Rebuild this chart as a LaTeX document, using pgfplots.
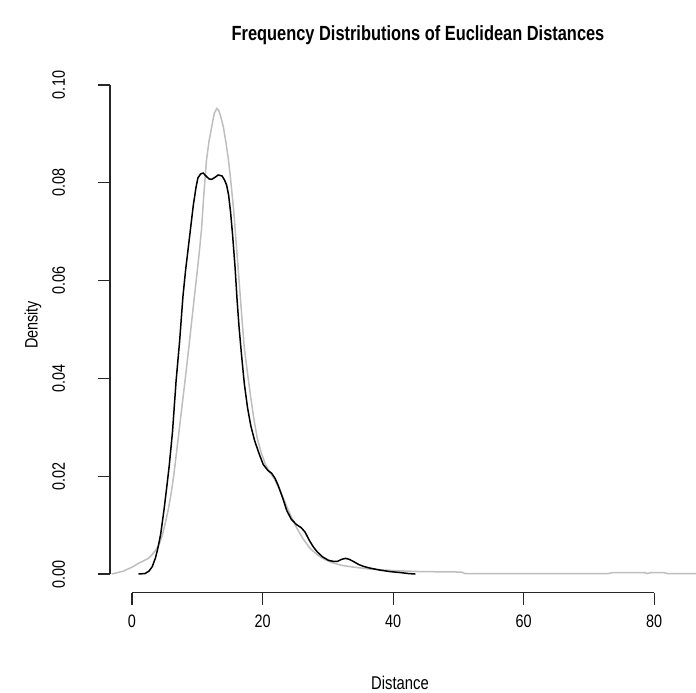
\documentclass[border=0pt]{standalone}
\usepackage{fontspec}
\setmainfont{Liberation Sans}[FakeStretch=0.8]
\usepackage{pgfplots}
\pgfplotsset{compat=1.18}

\definecolor{rgray}{HTML}{BEBEBE}

\begin{document}
\begin{tikzpicture}[x=1pt,y=1pt]
\useasboundingbox (0,0) rectangle (696,693);
\begin{axis}[
    at={(110pt,100.3pt)}, anchor=south west,
    scale only axis, width=586pt, height=507.7pt,
    xmin=-3.37, xmax=86.4, ymin=-0.00382, ymax=0.1,
    clip=false,
    axis line style={draw=none},
    tick pos=left, tick align=outside,
    major tick length=12pt,
    tick style={black!85, line width=1.1pt},
    xtick={0,20,40,60,80}, xticklabels={0,20,40,60,80},
    ytick={0,0.02,0.04,0.06,0.08,0.1},
    yticklabels={0.00,0.02,0.04,0.06,0.08,0.10},
    ticklabel style={font=\fontsize{18}{21}\selectfont, inner sep=0pt},
    xticklabel style={anchor=base, yshift=-22.8pt},
    yticklabel style={xshift=-33pt, rotate=90, anchor=base},
    title={\bfseries Frequency Distributions of Euclidean Distances},
    title style={at={(0.5256,1.0749)}, anchor=base, inner sep=0pt,
        font=\fontsize{20.5}{24}\selectfont},
    xlabel={Distance},
    xlabel style={at={(0.4949,-0.1779)}, anchor=center, inner sep=0pt,
        font=\fontsize{18.5}{21}\selectfont},
    ylabel={Density},
    ylabel style={at={(-0.1314,0.5273)}, anchor=center, inner sep=0pt,
        font=\fontsize{18}{21}\selectfont},
]
% R-style axis lines, spanning the tick range only
\draw[black!85, line width=1.1pt] (axis cs:0,-0.00382) -- (axis cs:80,-0.00382);
\draw[black!85, line width=1.1pt] (axis cs:-3.37,0) -- (axis cs:-3.37,0.1);

% grey density
\addplot[rgray, line width=1.5pt] coordinates {
(-3.1,0)(-2.2,0.0003)(-1.3,0.0006)(-0.5,0.0011)(0.3,0.0016)(1.0,0.0022)
(1.8,0.0027)(2.5,0.0032)(3.1,0.004)(3.7,0.005)(4.2,0.0062)(4.7,0.0082)
(5.2,0.011)(5.6,0.0135)(6.0,0.0165)(6.4,0.0202)(6.75,0.0241)(7.1,0.028)
(7.5,0.0325)(7.9,0.037)(8.3,0.0415)(8.7,0.0463)(9.1,0.0511)(9.5,0.056)
(9.9,0.0608)(10.3,0.0657)(10.65,0.0705)(11.0,0.0775)(11.4,0.0845)
(11.8,0.0885)(12.2,0.0914)(12.6,0.0942)(13.0,0.0952)(13.3,0.0948)
(13.7,0.093)(14.0,0.0914)(14.4,0.0882)(14.8,0.0845)(15.2,0.0795)
(15.6,0.074)(16.0,0.067)(16.4,0.0601)(16.8,0.053)(17.2,0.0463)
(17.7,0.041)(18.2,0.036)(18.7,0.0315)(19.2,0.0277)(19.8,0.0248)
(20.5,0.0222)(21.1,0.0208)(21.8,0.0195)(22.4,0.0178)(23.1,0.0158)
(23.8,0.0135)(24.4,0.0117)(25.2,0.0095)(26.2,0.0072)(27.3,0.0052)
(28.5,0.0038)(29.5,0.003)(30.5,0.0024)(32,0.0018)(34,0.0014)
(36.5,0.001)(40,0.0007)(44,0.0005)(50.5,0.0004)(51.0,0.0001)
(73.0,0.0001)(73.6,0.0003)(78.5,0.0003)(79.0,0.0001)(79.5,0.0003)
(81.5,0.0003)(82.0,0.0001)(86.4,0.0001)
};

% black density
\addplot[black, line width=1.5pt] coordinates {
(1.0,0)(2.0,0.0001)(2.6,0.0006)(3.1,0.0015)(3.6,0.0033)(4.0,0.0055)
(4.4,0.0082)(4.9,0.0131)(5.3,0.0175)(5.7,0.0221)(6.2,0.029)(6.75,0.0394)
(7.3,0.0477)(7.8,0.0567)(8.2,0.062)(8.6,0.0665)(9.0,0.071)(9.4,0.0755)
(9.8,0.079)(10.1,0.081)(10.5,0.0818)(10.9,0.082)(11.4,0.0813)
(11.8,0.0808)(12.2,0.0807)(12.7,0.0811)(13.2,0.0816)(13.8,0.0814)
(14.2,0.0805)(14.5,0.0795)(14.8,0.0775)(15.1,0.074)(15.4,0.0695)
(15.8,0.0625)(16.1,0.056)(16.4,0.0505)(16.8,0.0445)(17.2,0.039)
(17.7,0.034)(18.2,0.0303)(18.8,0.0272)(19.5,0.0245)(20.1,0.0224)
(20.8,0.0212)(21.4,0.0206)(21.9,0.0196)(22.4,0.0181)(23.1,0.0155)
(23.7,0.013)(24.4,0.0112)(25.2,0.0101)(25.9,0.0095)(26.5,0.0086)
(27.2,0.0068)(27.8,0.0055)(28.4,0.0045)(29.2,0.0035)(30.1,0.0028)
(30.8,0.0026)(31.5,0.0026)(32.1,0.003)(32.7,0.0032)(33.3,0.003)
(34.0,0.0025)(34.8,0.0019)(35.6,0.0015)(36.5,0.0012)(38.0,0.0008)
(39.5,0.0005)(41.1,0.0003)(42.3,0.0001)(43.4,0.0)
};
\end{axis}
\end{tikzpicture}
\end{document}
